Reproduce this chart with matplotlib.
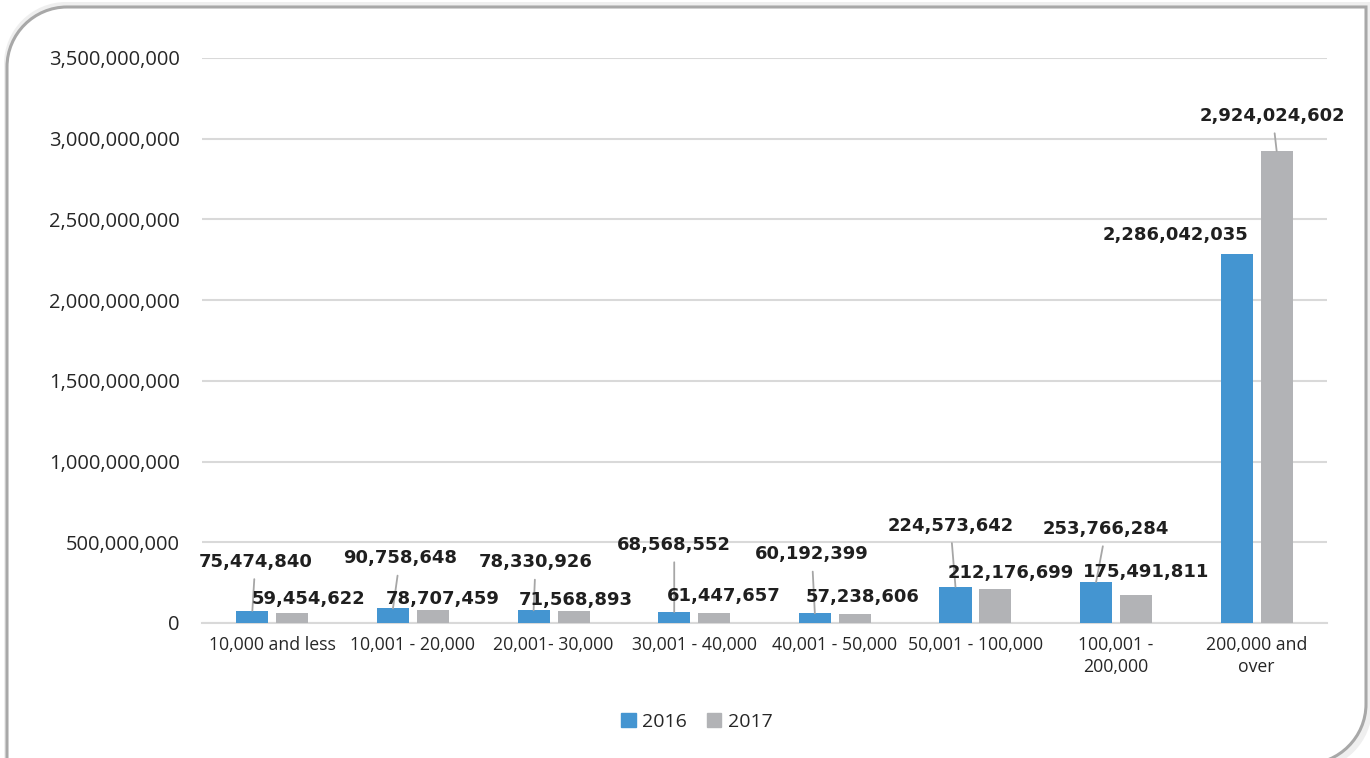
import matplotlib.pyplot as plt
import numpy as np
from matplotlib.path import Path
from matplotlib.patches import PathPatch, Patch
from matplotlib.ticker import FuncFormatter

# * Data
categories = ["10,000 and less", "10,001 - 20,000", "20,001- 30,000", "30,001 - 40,000",
              "40,001 - 50,000", "50,001 - 100,000", "100,001 -\n200,000", "200,000 and\nover"]
values_2016 = [75474840, 90758648, 78330926, 68568552, 60192399, 224573642, 253766284, 2286042035]
values_2017 = [59454622, 78707459, 71568893, 61447657, 57238606, 212176699, 175491811, 2924024602]

# label offsets in pixels (dx, dy) from bar top, and whether a leader line is drawn
offs_2016 = [(3, 49), (7, 50), (2, 48), (0, 67), (-3, 59), (-5, 61), (10, 53), (-61, 19)]
lead_2016 = [True, True, True, True, True, True, True, False]
offs_2017 = [(16, 14), (10, 11), (2, 11), (10, 17), (8, 17), (15, 16), (10, 23), (-4, 35)]
lead_2017 = [False, False, False, False, False, False, False, True]

C_2016 = "#4495d1"
C_2017 = "#b2b3b6"
GRID = "#d9d9d9"
W, H = 1370, 758

fig = plt.figure(figsize=(W / 100, H / 100), dpi=100)
fig.patch.set_facecolor("white")


# * Frame with rounded top-left / bottom-right corners
def frame_path(x0, y0, x1, y1, r):
    # pixel coords, y from top -> figure fraction
    def p(x, y):
        return (x / W, 1 - y / H)
    k = 0.55
    verts = [p(x0, y0 + r),
             p(x0, y0 + r * (1 - k)), p(x0 + r * (1 - k), y0), p(x0 + r, y0),
             p(x1, y0),
             p(x1, y1 - r),
             p(x1, y1 - r * (1 - k)), p(x1 - r * (1 - k), y1), p(x1 - r, y1),
             p(x0, y1),
             p(x0, y0 + r)]
    codes = [Path.MOVETO,
             Path.CURVE4, Path.CURVE4, Path.CURVE4,
             Path.LINETO, Path.LINETO,
             Path.CURVE4, Path.CURVE4, Path.CURVE4,
             Path.LINETO, Path.CLOSEPOLY]
    return Path(verts, codes)


fig.patches.append(PathPatch(frame_path(4, 2, 1372, 770, 62), transform=fig.transFigure,
                             facecolor="#efefef", edgecolor="none", zorder=-3))
fig.patches.append(PathPatch(frame_path(7, 7, 1366, 764, 60), transform=fig.transFigure,
                             facecolor="white", edgecolor="#a8a8a8", linewidth=2.2, zorder=-2))

# * Plot
ax = fig.add_axes([202 / W, 1 - 623 / H, 1125 / W, 565 / H])
ax.set_facecolor("none")
x = np.arange(len(categories))
bw = 0.228
off = 0.142
b16 = ax.bar(x - off, values_2016, bw, color=C_2016, zorder=3)
b17 = ax.bar(x + off, values_2017, bw, color=C_2017, zorder=3)

ax.set_xlim(-0.5, len(categories) - 0.5)
ax.set_ylim(0, 3500000000)
ax.set_yticks(np.arange(0, 3500000001, 500000000))
ax.yaxis.set_major_formatter(FuncFormatter(lambda v, p: f"{int(v):,}"))
ax.grid(axis="y", color=GRID, linewidth=1.5, zorder=0)
ax.set_axisbelow(True)
for s in ["top", "right", "left"]:
    ax.spines[s].set_visible(False)
ax.spines["bottom"].set_color(GRID)
ax.spines["bottom"].set_linewidth(1.5)
ax.set_xticks(x)
ax.set_xticklabels(categories, fontsize=12.7, color="#262626", family="Open Sans", linespacing=1.3)
ax.tick_params(axis="x", length=0, pad=9)
ax.tick_params(axis="y", length=0, pad=16, labelsize=14.5, labelcolor="#262626")
for lab in ax.get_yticklabels():
    lab.set_family("Open Sans")


# * Data labels
def put_labels(bars, vals, offs, leads):
    for b, v, (dx, dy), lead in zip(bars, vals, offs, leads):
        xy = (b.get_x() + b.get_width() / 2, v)
        kw = {}
        if lead:
            kw["arrowprops"] = dict(arrowstyle="-", color="#a6a6a6", lw=1.3,
                                    shrinkA=4, shrinkB=0)
        ax.annotate(f"{v:,}", xy=xy, xytext=(dx, dy), textcoords="offset pixels",
                    ha="center", va="center", fontsize=13, fontweight="bold",
                    family="DejaVu Sans", color="#1f1f1f", zorder=5, **kw)


put_labels(b16, values_2016, offs_2016, lead_2016)
put_labels(b17, values_2017, offs_2017, lead_2017)

# * Legend
handles = [Patch(color=C_2016, label="2016"), Patch(color=C_2017, label="2017")]
leg = fig.legend(handles=handles, loc="center", bbox_to_anchor=(697 / W, 1 - 722 / H),
                 ncol=2, frameon=False, handlelength=0.75, handleheight=0.75,
                 handletextpad=0.35, columnspacing=1.0,
                 prop={"family": "Open Sans", "size": 14})
for t in leg.get_texts():
    t.set_color("#262626")

plt.savefig("out.png", dpi=100)
